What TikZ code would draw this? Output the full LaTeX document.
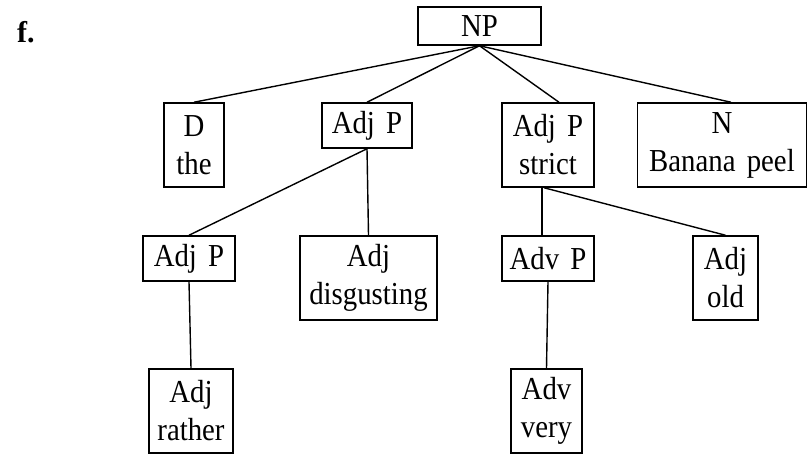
\documentclass[tikz,border=0pt]{standalone}
\usepackage{fontspec}
\setmainfont{Liberation Serif}
\newfontfamily\boxfont[FakeStretch=0.9]{Liberation Serif}
\usetikzlibrary{calc}
\begin{document}
\begin{tikzpicture}[x=1pt,y=-1pt,
  box/.style={draw, line width=1.5pt, inner sep=0pt, align=center,
    font=\boxfont\fontsize{32pt}{38pt}\selectfont},
  edge/.style={line width=1.4pt},
  lbl/.style={font=\fontsize{30pt}{34pt}\selectfont\bfseries, inner sep=0pt, anchor=base west}]
\fill[white] (0,0) rectangle (808,454);
\useasboundingbox (0,0) rectangle (808,454);
\node[lbl] (f) at (17,43) {f.};
\node[box, minimum width=123pt, minimum height=38pt] (np) at (479.5,26) {NP};
\node[box, minimum width=60pt, minimum height=84pt] (d) at (194,145) {D\\the};
\node[box, minimum width=90pt, minimum height=45pt] (ap1) at (367,125.5) {Adj\hspace{0.35em}P};
\node[box, minimum width=92pt, minimum height=84pt] (ap2) at (548,145) {Adj\hspace{0.35em}P\\strict};
\node[box, minimum width=169pt, minimum height=84pt] (n) at (722,145) {N\\Banana\hspace{0.35em}peel};
\node[box, minimum width=92pt, minimum height=45pt] (ap3) at (189,258.5) {Adj\hspace{0.35em}P};
\node[box, minimum width=137pt, minimum height=84pt] (dis) at (368.5,278) {Adj\\disgusting};
\node[box, minimum width=92pt, minimum height=45pt] (advp) at (548,258.5) {Adv\hspace{0.35em}P};
\node[box, minimum width=65pt, minimum height=84pt] (old) at (725.5,278) {Adj\\old};
\node[box, minimum width=84pt, minimum height=84pt] (rat) at (191,411) {Adj\\rather};
\node[box, minimum width=71pt, minimum height=84pt] (very) at (546.5,411) {Adv\\very};
\draw[edge] (np.south) -- (d.north);
\draw[edge] (np.south) -- (ap1.north);
\draw[edge] (np.south) -- ($(ap2.north)+(11,0)$);
\draw[edge] (np.south) -- ($(n.north)+(9,0)$);
\draw[edge] (ap1.south) -- (ap3.north);
\draw[edge] (ap1.south) -- (dis.north);
\draw[edge] (ap3.south) -- (rat.north);
\draw[edge] ($(ap2.south)+(-6,0)$) -- ($(advp.north)+(-6,0)$);
\draw[edge] ($(ap2.south)+(-4,0)$) -- (old.north);
\draw[edge] (advp.south) -- (very.north);
\end{tikzpicture}
\end{document}
